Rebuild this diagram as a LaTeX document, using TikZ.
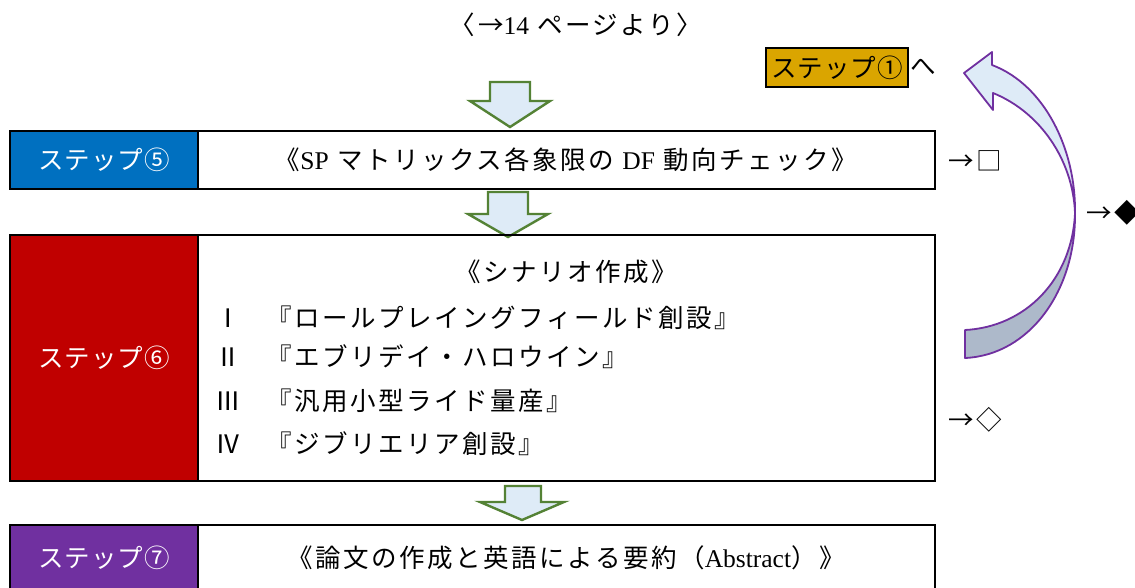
\documentclass[tikz,border=0pt]{standalone}
\usepackage{fontspec}
\setmainfont{Liberation Serif}
\newfontfamily\jp[LetterSpace=10]{Noto Sans CJK JP}
\newfontfamily\jplab[LetterSpace=4]{Noto Sans CJK JP}
\definecolor{sblue}{HTML}{0070C0}
\definecolor{sred}{HTML}{C00000}
\definecolor{spurple}{HTML}{7030A0}
\definecolor{sgold}{RGB}{218,165,0}
\definecolor{agreen}{HTML}{548235}
\definecolor{afill}{HTML}{DEEBF7}
\definecolor{agray}{HTML}{ADB9CA}
\tikzset{
  lab/.style={draw=black,line width=2.2pt,minimum width=188pt,text=white,inner sep=0pt,font=\fontsize{25.5}{30}\selectfont\jplab},
  cell/.style={draw=black,line width=2.2pt,minimum width=737pt,inner sep=0pt},
  txt/.style={inner sep=0pt},
  blockarrow/.style={draw=agreen,fill=afill,line width=2.4pt,line join=miter},
  curvarrow/.style={draw=spurple,line width=1.8pt,line join=round}
}
\begin{document}
\begin{tikzpicture}[x=1pt,y=-1pt,font=\fontsize{25.5}{30}\selectfont\jp]
\clip (0,0) rectangle (1135,587);
\fill[white] (0,0) rectangle (1135,587);

% top text
\node[txt] (top) at (576,25) {〈→{\rmfamily 14} ページより〉};

% step 1 reference
\node[txt,draw=black,fill=sgold,line width=1.6pt,minimum width=142pt,minimum height=39pt,font=\fontsize{25.5}{30}\selectfont\jplab] (s1) at (837,67.5) {ステップ①};
\node[txt,anchor=west] (he) at ([xshift=1pt]s1.east) {へ};

% block arrows
\draw[blockarrow] (490,82) -- (530,82) -- (530,101) -- (550,101) -- (510,127) -- (470,101) -- (490,101) -- cycle;
\draw[blockarrow] (488,192) -- (528,192) -- (528,214) -- (548,214) -- (508,237) -- (468,214) -- (488,214) -- cycle;
\draw[blockarrow] (505,486) -- (541,486) -- (541,502) -- (564,502) -- (522,520) -- (480,502) -- (505,502) -- cycle;

% step 5
\node[lab,fill=sblue,minimum height=58pt] (s5) at (104,160) {ステップ⑤};
\node[cell,minimum height=58pt] (m5) at (566.5,160) {};
\node[txt] (t5) at (566,160) {《{\rmfamily SP} マトリックス各象限の {\rmfamily DF} 動向チェック》};

% step 6
\node[lab,fill=sred,minimum height=246pt] (s6) at (104,358) {ステップ⑥};
\node[cell,minimum height=246pt] (m6) at (566.5,358) {};
\node[txt] (t6) at (566,272) {《シナリオ作成》};
\node[txt] (r1) at (228,318) {Ⅰ};
\node[txt] (r2) at (228,357) {Ⅱ};
\node[txt] (r3) at (228,401) {Ⅲ};
\node[txt] (r4) at (228,444) {Ⅳ};
\node[txt,anchor=west] (l1) at (266,318) {『ロールプレイングフィールド創設』};
\node[txt,anchor=west] (l2) at (266,357) {『エブリデイ・ハロウイン』};
\node[txt,anchor=west] (l3) at (266,401) {『汎用小型ライド量産』};
\node[txt,anchor=west] (l4) at (266,444) {『ジブリエリア創設』};

% step 7
\node[lab,fill=spurple,minimum height=66pt] (s7) at (104,558) {ステップ⑦};
\node[cell,minimum height=66pt] (m7) at (566.5,558) {};
\node[txt] (t7) at (566,558) {《論文の作成と英語による要約（{\rmfamily Abstract}）》};

% side marks
\node[txt,anchor=west] (sq) at (948,161) {→□};
\node[txt,anchor=west] (dw) at (948,420) {→◇};
\node[txt,anchor=west] (db) at (1086,213) {→◆};

% curved arrow
\coordinate (mid) at (1075,213);
\draw[curvarrow,fill=agray] (mid) .. controls (1076,290) and (1030,355) .. (965,358) -- (965,330) .. controls (1025,327) and (1072,280) .. (mid);
\draw[curvarrow,fill=afill] (992,65) -- (992,52) -- (964,73) -- (993,110) -- (993,93) .. controls (1040,112) and (1073,160) .. (mid) .. controls (1076,150) and (1045,85) .. (992,65) -- cycle;
\end{tikzpicture}
\end{document}
